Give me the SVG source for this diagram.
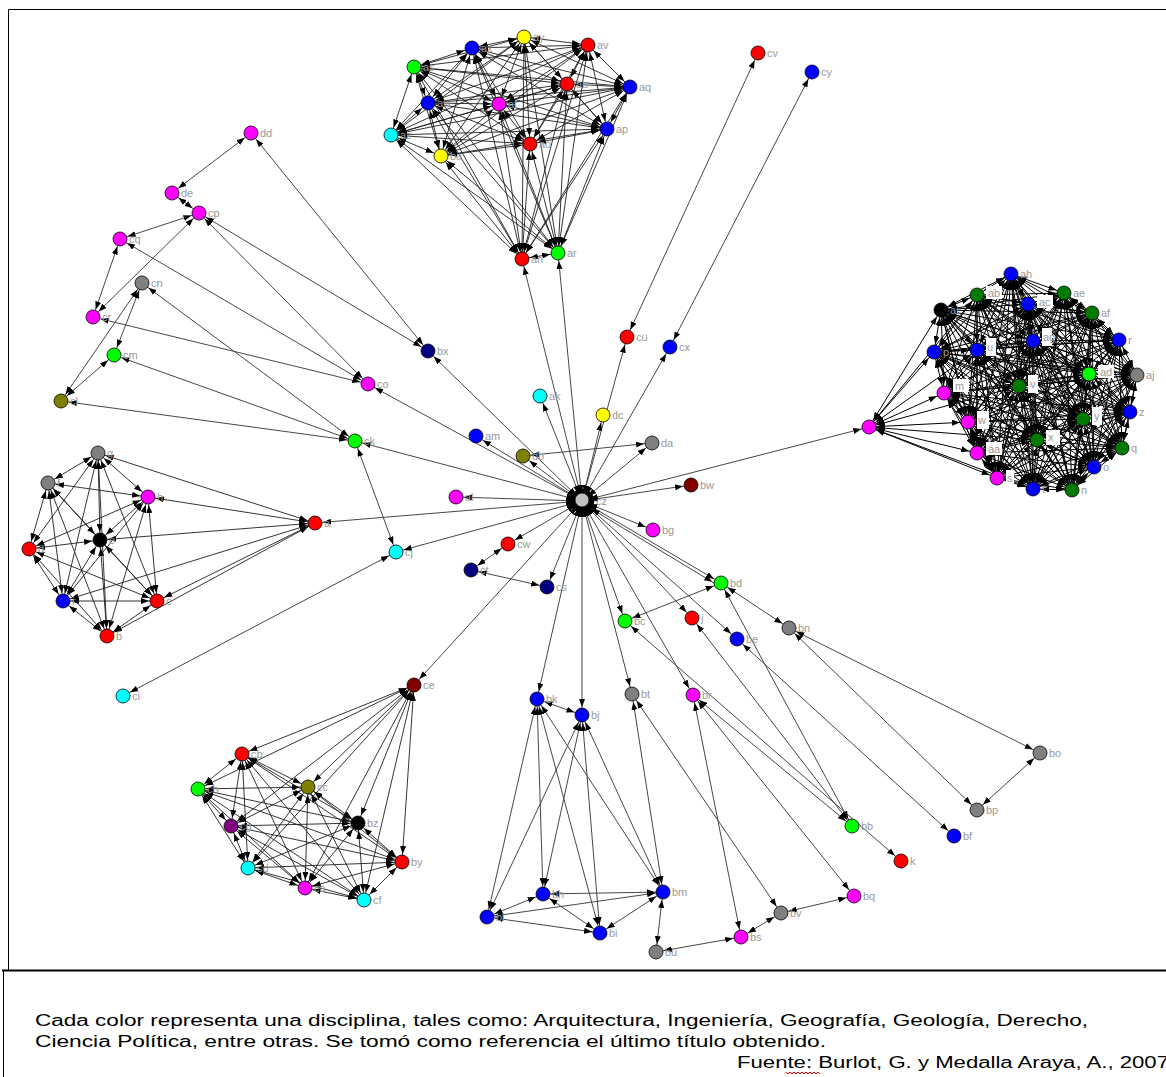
<svg xmlns="http://www.w3.org/2000/svg" width="1166" height="1077" viewBox="0 0 1166 1077">
<defs>
<marker id="arw" viewBox="0 0 8 6" refX="16" refY="3" markerWidth="8" markerHeight="6" markerUnits="userSpaceOnUse" orient="auto-start-reverse"><path d="M0,0L8,3L0,6z" fill="#000"/></marker>
</defs>
<style>
.c line{stroke:#474747;stroke-width:1;marker-start:url(#arw);marker-end:url(#arw)}
.c .k line{stroke:#1e1e1e;stroke-width:.9}
.c .rc line{stroke:#000;stroke-width:1}
.n circle{stroke:#000;stroke-width:.8}
.n text{font-family:"Liberation Sans",Arial,sans-serif;font-size:11px;fill:#9a9a9a}
.n rect{fill:#fff}
.R{fill:#f00}.B{fill:#00f}.G{fill:#0f0}.D{fill:#007a00}.Y{fill:#ff0}.M{fill:#f0f}.C{fill:#0ff}.A{fill:#808080}.O{fill:#808000}.N{fill:#000080}.W{fill:#800000}.P{fill:#800080}.K{fill:#000}.L{fill:#c0c0c0}
.cap{font-family:"Liberation Sans",Arial,sans-serif;font-size:16px;fill:#000}
.frame{stroke:#000;fill:none}
</style>
<rect width="1166" height="1077" fill="#fff"/>
<g id="frame" class="frame">
<path d="M8.5,9.5H1166M8.5,9.5V970" stroke-width="1"/>
<path d="M2,970.5H1166" stroke-width="2"/>
<path d="M3.5,971V1077" stroke-width="1"/>
</g>
<g id="connectors" class="c">
<g id="main-edges">
<line x1="582" y1="501" x2="627" y2="337"/>
<line x1="582" y1="501" x2="670" y2="347"/>
<line x1="582" y1="501" x2="540" y2="396"/>
<line x1="582" y1="501" x2="603" y2="415"/>
<line x1="582" y1="501" x2="652" y2="443"/>
<line x1="582" y1="501" x2="523" y2="456"/>
<line x1="582" y1="501" x2="476" y2="436"/>
<line x1="582" y1="501" x2="428" y2="351"/>
<line x1="582" y1="501" x2="368" y2="384"/>
<line x1="582" y1="501" x2="355" y2="441"/>
<line x1="582" y1="501" x2="315" y2="523"/>
<line x1="582" y1="501" x2="456" y2="497"/>
<line x1="582" y1="501" x2="396" y2="552"/>
<line x1="582" y1="501" x2="414" y2="685"/>
<line x1="582" y1="501" x2="508" y2="544"/>
<line x1="582" y1="501" x2="547" y2="587"/>
<line x1="582" y1="501" x2="537" y2="699"/>
<line x1="582" y1="501" x2="582" y2="715"/>
<line x1="582" y1="501" x2="632" y2="694"/>
<line x1="582" y1="501" x2="693" y2="695"/>
<line x1="582" y1="501" x2="625" y2="621"/>
<line x1="582" y1="501" x2="692" y2="618"/>
<line x1="582" y1="501" x2="737" y2="639"/>
<line x1="582" y1="501" x2="721" y2="583"/>
<line x1="585" y1="505" x2="719" y2="586"/>
<line x1="582" y1="501" x2="653" y2="530"/>
<line x1="582" y1="501" x2="691" y2="485"/>
<line x1="582" y1="501" x2="869" y2="427"/>
<line x1="582" y1="501" x2="522" y2="259"/>
<line x1="582" y1="501" x2="558" y2="253"/>
<line x1="627" y1="337" x2="758" y2="53"/>
<line x1="670" y1="347" x2="812" y2="72"/>
<line x1="523" y1="456" x2="652" y2="443"/>
<line x1="471" y1="570" x2="547" y2="587"/>
<line x1="471" y1="570" x2="508" y2="544"/>
<line x1="251" y1="133" x2="428" y2="351"/>
<line x1="199" y1="213" x2="428" y2="351"/>
<line x1="199" y1="213" x2="368" y2="384"/>
<line x1="120" y1="239" x2="368" y2="384"/>
<line x1="93" y1="317" x2="368" y2="384"/>
<line x1="142" y1="283" x2="355" y2="441"/>
<line x1="114" y1="355" x2="355" y2="441"/>
<line x1="61" y1="401" x2="355" y2="441"/>
<line x1="396" y1="552" x2="355" y2="441"/>
<line x1="123" y1="696" x2="396" y2="552"/>
<line x1="251" y1="133" x2="172" y2="193"/>
<line x1="172" y1="193" x2="199" y2="213"/>
<line x1="120" y1="239" x2="199" y2="213"/>
<line x1="93" y1="317" x2="120" y2="239"/>
<line x1="93" y1="317" x2="199" y2="213"/>
<line x1="61" y1="401" x2="142" y2="283"/>
<line x1="61" y1="401" x2="114" y2="355"/>
<line x1="114" y1="355" x2="142" y2="283"/>
<line x1="625" y1="621" x2="721" y2="583"/>
<line x1="721" y1="583" x2="789" y2="628"/>
<line x1="721" y1="583" x2="852" y2="826"/>
<line x1="789" y1="628" x2="1040" y2="753"/>
<line x1="789" y1="628" x2="977" y2="810"/>
<line x1="977" y1="810" x2="1040" y2="753"/>
<line x1="737" y1="639" x2="954" y2="836"/>
<line x1="692" y1="618" x2="852" y2="826"/>
<line x1="625" y1="621" x2="901" y2="861"/>
<line x1="693" y1="695" x2="852" y2="826"/>
<line x1="693" y1="695" x2="854" y2="896"/>
<line x1="693" y1="695" x2="741" y2="937"/>
<line x1="632" y1="694" x2="781" y2="913"/>
<line x1="632" y1="694" x2="663" y2="892"/>
<line x1="741" y1="937" x2="781" y2="913"/>
<line x1="781" y1="913" x2="854" y2="896"/>
<line x1="656" y1="952" x2="741" y2="937"/>
<line x1="537" y1="699" x2="582" y2="715"/>
<line x1="537" y1="699" x2="487" y2="917"/>
<line x1="537" y1="699" x2="543" y2="894"/>
<line x1="537" y1="699" x2="600" y2="933"/>
<line x1="537" y1="699" x2="663" y2="892"/>
<line x1="582" y1="715" x2="487" y2="917"/>
<line x1="582" y1="715" x2="543" y2="894"/>
<line x1="582" y1="715" x2="600" y2="933"/>
<line x1="582" y1="715" x2="663" y2="892"/>
<line x1="543" y1="894" x2="663" y2="892"/>
<line x1="487" y1="917" x2="543" y2="894"/>
<line x1="487" y1="917" x2="600" y2="933"/>
<line x1="487" y1="917" x2="663" y2="892"/>
<line x1="600" y1="933" x2="543" y2="894"/>
<line x1="600" y1="933" x2="663" y2="892"/>
<line x1="663" y1="892" x2="656" y2="952"/>
</g>
<g id="top-cluster-edges" class="k">
<line x1="472" y1="48" x2="524" y2="37"/>
<line x1="472" y1="48" x2="588" y2="45"/>
<line x1="472" y1="48" x2="414" y2="67"/>
<line x1="472" y1="48" x2="567" y2="84"/>
<line x1="472" y1="48" x2="630" y2="87"/>
<line x1="472" y1="48" x2="428" y2="103"/>
<line x1="472" y1="48" x2="499" y2="104"/>
<line x1="472" y1="48" x2="391" y2="135"/>
<line x1="472" y1="48" x2="607" y2="129"/>
<line x1="472" y1="48" x2="530" y2="144"/>
<line x1="472" y1="48" x2="441" y2="156"/>
<line x1="524" y1="37" x2="588" y2="45"/>
<line x1="524" y1="37" x2="414" y2="67"/>
<line x1="524" y1="37" x2="567" y2="84"/>
<line x1="524" y1="37" x2="630" y2="87"/>
<line x1="524" y1="37" x2="428" y2="103"/>
<line x1="524" y1="37" x2="499" y2="104"/>
<line x1="524" y1="37" x2="391" y2="135"/>
<line x1="524" y1="37" x2="607" y2="129"/>
<line x1="524" y1="37" x2="530" y2="144"/>
<line x1="524" y1="37" x2="441" y2="156"/>
<line x1="588" y1="45" x2="414" y2="67"/>
<line x1="588" y1="45" x2="567" y2="84"/>
<line x1="588" y1="45" x2="630" y2="87"/>
<line x1="588" y1="45" x2="428" y2="103"/>
<line x1="588" y1="45" x2="499" y2="104"/>
<line x1="588" y1="45" x2="391" y2="135"/>
<line x1="588" y1="45" x2="607" y2="129"/>
<line x1="588" y1="45" x2="530" y2="144"/>
<line x1="588" y1="45" x2="441" y2="156"/>
<line x1="414" y1="67" x2="567" y2="84"/>
<line x1="414" y1="67" x2="630" y2="87"/>
<line x1="414" y1="67" x2="428" y2="103"/>
<line x1="414" y1="67" x2="499" y2="104"/>
<line x1="414" y1="67" x2="391" y2="135"/>
<line x1="414" y1="67" x2="607" y2="129"/>
<line x1="414" y1="67" x2="530" y2="144"/>
<line x1="414" y1="67" x2="441" y2="156"/>
<line x1="567" y1="84" x2="630" y2="87"/>
<line x1="567" y1="84" x2="428" y2="103"/>
<line x1="567" y1="84" x2="499" y2="104"/>
<line x1="567" y1="84" x2="391" y2="135"/>
<line x1="567" y1="84" x2="607" y2="129"/>
<line x1="567" y1="84" x2="530" y2="144"/>
<line x1="567" y1="84" x2="441" y2="156"/>
<line x1="630" y1="87" x2="428" y2="103"/>
<line x1="630" y1="87" x2="499" y2="104"/>
<line x1="630" y1="87" x2="391" y2="135"/>
<line x1="630" y1="87" x2="607" y2="129"/>
<line x1="630" y1="87" x2="530" y2="144"/>
<line x1="630" y1="87" x2="441" y2="156"/>
<line x1="428" y1="103" x2="499" y2="104"/>
<line x1="428" y1="103" x2="391" y2="135"/>
<line x1="428" y1="103" x2="607" y2="129"/>
<line x1="428" y1="103" x2="530" y2="144"/>
<line x1="428" y1="103" x2="441" y2="156"/>
<line x1="499" y1="104" x2="391" y2="135"/>
<line x1="499" y1="104" x2="607" y2="129"/>
<line x1="499" y1="104" x2="530" y2="144"/>
<line x1="499" y1="104" x2="441" y2="156"/>
<line x1="391" y1="135" x2="607" y2="129"/>
<line x1="391" y1="135" x2="530" y2="144"/>
<line x1="391" y1="135" x2="441" y2="156"/>
<line x1="607" y1="129" x2="530" y2="144"/>
<line x1="607" y1="129" x2="441" y2="156"/>
<line x1="530" y1="144" x2="441" y2="156"/>
<line x1="472" y1="48" x2="522" y2="259"/>
<line x1="524" y1="37" x2="522" y2="259"/>
<line x1="588" y1="45" x2="522" y2="259"/>
<line x1="414" y1="67" x2="522" y2="259"/>
<line x1="567" y1="84" x2="522" y2="259"/>
<line x1="630" y1="87" x2="522" y2="259"/>
<line x1="428" y1="103" x2="522" y2="259"/>
<line x1="499" y1="104" x2="522" y2="259"/>
<line x1="391" y1="135" x2="522" y2="259"/>
<line x1="607" y1="129" x2="522" y2="259"/>
<line x1="530" y1="144" x2="522" y2="259"/>
<line x1="441" y1="156" x2="522" y2="259"/>
<line x1="472" y1="48" x2="558" y2="253"/>
<line x1="524" y1="37" x2="558" y2="253"/>
<line x1="588" y1="45" x2="558" y2="253"/>
<line x1="414" y1="67" x2="558" y2="253"/>
<line x1="567" y1="84" x2="558" y2="253"/>
<line x1="630" y1="87" x2="558" y2="253"/>
<line x1="428" y1="103" x2="558" y2="253"/>
<line x1="499" y1="104" x2="558" y2="253"/>
<line x1="391" y1="135" x2="558" y2="253"/>
<line x1="607" y1="129" x2="558" y2="253"/>
<line x1="530" y1="144" x2="558" y2="253"/>
<line x1="441" y1="156" x2="558" y2="253"/>
<line x1="522" y1="259" x2="558" y2="253"/>
</g>
<g id="left-cluster-edges" class="k">
<line x1="107" y1="636" x2="157" y2="601"/>
<line x1="107" y1="636" x2="29" y2="549"/>
<line x1="107" y1="636" x2="100" y2="540"/>
<line x1="107" y1="636" x2="48" y2="483"/>
<line x1="107" y1="636" x2="98" y2="453"/>
<line x1="107" y1="636" x2="148" y2="497"/>
<line x1="107" y1="636" x2="63" y2="601"/>
<line x1="157" y1="601" x2="29" y2="549"/>
<line x1="157" y1="601" x2="100" y2="540"/>
<line x1="157" y1="601" x2="48" y2="483"/>
<line x1="157" y1="601" x2="98" y2="453"/>
<line x1="157" y1="601" x2="148" y2="497"/>
<line x1="157" y1="601" x2="63" y2="601"/>
<line x1="29" y1="549" x2="100" y2="540"/>
<line x1="29" y1="549" x2="48" y2="483"/>
<line x1="29" y1="549" x2="98" y2="453"/>
<line x1="29" y1="549" x2="148" y2="497"/>
<line x1="29" y1="549" x2="63" y2="601"/>
<line x1="100" y1="540" x2="48" y2="483"/>
<line x1="100" y1="540" x2="98" y2="453"/>
<line x1="100" y1="540" x2="148" y2="497"/>
<line x1="100" y1="540" x2="63" y2="601"/>
<line x1="48" y1="483" x2="98" y2="453"/>
<line x1="48" y1="483" x2="148" y2="497"/>
<line x1="48" y1="483" x2="63" y2="601"/>
<line x1="98" y1="453" x2="148" y2="497"/>
<line x1="98" y1="453" x2="63" y2="601"/>
<line x1="148" y1="497" x2="63" y2="601"/>
<line x1="315" y1="523" x2="98" y2="453"/>
<line x1="315" y1="523" x2="148" y2="497"/>
<line x1="315" y1="523" x2="100" y2="540"/>
<line x1="315" y1="523" x2="63" y2="601"/>
<line x1="315" y1="523" x2="157" y2="601"/>
<line x1="315" y1="523" x2="107" y2="636"/>
</g>
<g id="bottom-left-cluster-edges" class="k">
<line x1="242" y1="754" x2="198" y2="789"/>
<line x1="242" y1="754" x2="308" y2="787"/>
<line x1="242" y1="754" x2="358" y2="823"/>
<line x1="242" y1="754" x2="231" y2="826"/>
<line x1="242" y1="754" x2="248" y2="868"/>
<line x1="242" y1="754" x2="402" y2="862"/>
<line x1="242" y1="754" x2="305" y2="888"/>
<line x1="242" y1="754" x2="364" y2="900"/>
<line x1="198" y1="789" x2="308" y2="787"/>
<line x1="198" y1="789" x2="358" y2="823"/>
<line x1="198" y1="789" x2="231" y2="826"/>
<line x1="198" y1="789" x2="248" y2="868"/>
<line x1="198" y1="789" x2="402" y2="862"/>
<line x1="198" y1="789" x2="305" y2="888"/>
<line x1="198" y1="789" x2="364" y2="900"/>
<line x1="308" y1="787" x2="358" y2="823"/>
<line x1="308" y1="787" x2="231" y2="826"/>
<line x1="308" y1="787" x2="248" y2="868"/>
<line x1="308" y1="787" x2="402" y2="862"/>
<line x1="308" y1="787" x2="305" y2="888"/>
<line x1="308" y1="787" x2="364" y2="900"/>
<line x1="358" y1="823" x2="231" y2="826"/>
<line x1="358" y1="823" x2="248" y2="868"/>
<line x1="358" y1="823" x2="402" y2="862"/>
<line x1="358" y1="823" x2="305" y2="888"/>
<line x1="358" y1="823" x2="364" y2="900"/>
<line x1="231" y1="826" x2="248" y2="868"/>
<line x1="231" y1="826" x2="402" y2="862"/>
<line x1="231" y1="826" x2="305" y2="888"/>
<line x1="231" y1="826" x2="364" y2="900"/>
<line x1="248" y1="868" x2="402" y2="862"/>
<line x1="248" y1="868" x2="305" y2="888"/>
<line x1="248" y1="868" x2="364" y2="900"/>
<line x1="402" y1="862" x2="305" y2="888"/>
<line x1="402" y1="862" x2="364" y2="900"/>
<line x1="305" y1="888" x2="364" y2="900"/>
<line x1="414" y1="685" x2="242" y2="754"/>
<line x1="414" y1="685" x2="198" y2="789"/>
<line x1="414" y1="685" x2="308" y2="787"/>
<line x1="414" y1="685" x2="358" y2="823"/>
<line x1="414" y1="685" x2="231" y2="826"/>
<line x1="414" y1="685" x2="248" y2="868"/>
<line x1="414" y1="685" x2="402" y2="862"/>
<line x1="414" y1="685" x2="305" y2="888"/>
<line x1="414" y1="685" x2="364" y2="900"/>
</g>
<g id="right-cluster-edges" class="rc">
<line x1="869" y1="427" x2="941" y2="310"/>
<line x1="869" y1="427" x2="934" y2="352"/>
<line x1="869" y1="427" x2="977" y2="350"/>
<line x1="869" y1="427" x2="944" y2="393"/>
<line x1="869" y1="427" x2="968" y2="422"/>
<line x1="869" y1="427" x2="977" y2="453"/>
<line x1="869" y1="427" x2="997" y2="478"/>
<line x1="869" y1="427" x2="1033" y2="489"/>
<line x1="869" y1="427" x2="977" y2="295"/>
<line x1="869" y1="427" x2="1019" y2="386"/>
<line x1="869" y1="427" x2="1037" y2="440"/>
<line x1="1011" y1="274" x2="977" y2="295"/>
<line x1="1011" y1="274" x2="1028" y2="304"/>
<line x1="1011" y1="274" x2="1064" y2="293"/>
<line x1="1011" y1="274" x2="1092" y2="313"/>
<line x1="1011" y1="274" x2="941" y2="310"/>
<line x1="1011" y1="274" x2="1119" y2="340"/>
<line x1="1011" y1="274" x2="1033" y2="341"/>
<line x1="1011" y1="274" x2="977" y2="350"/>
<line x1="1011" y1="274" x2="934" y2="352"/>
<line x1="1011" y1="274" x2="1089" y2="374"/>
<line x1="1011" y1="274" x2="1137" y2="375"/>
<line x1="1011" y1="274" x2="1019" y2="386"/>
<line x1="1011" y1="274" x2="944" y2="393"/>
<line x1="1011" y1="274" x2="1130" y2="412"/>
<line x1="1011" y1="274" x2="1083" y2="419"/>
<line x1="1011" y1="274" x2="968" y2="422"/>
<line x1="1011" y1="274" x2="1037" y2="440"/>
<line x1="1011" y1="274" x2="1122" y2="448"/>
<line x1="1011" y1="274" x2="977" y2="453"/>
<line x1="1011" y1="274" x2="1094" y2="467"/>
<line x1="1011" y1="274" x2="997" y2="478"/>
<line x1="1011" y1="274" x2="1033" y2="489"/>
<line x1="1011" y1="274" x2="1072" y2="490"/>
<line x1="977" y1="295" x2="1028" y2="304"/>
<line x1="977" y1="295" x2="1064" y2="293"/>
<line x1="977" y1="295" x2="1092" y2="313"/>
<line x1="977" y1="295" x2="941" y2="310"/>
<line x1="977" y1="295" x2="1119" y2="340"/>
<line x1="977" y1="295" x2="1033" y2="341"/>
<line x1="977" y1="295" x2="977" y2="350"/>
<line x1="977" y1="295" x2="934" y2="352"/>
<line x1="977" y1="295" x2="1089" y2="374"/>
<line x1="977" y1="295" x2="1137" y2="375"/>
<line x1="977" y1="295" x2="1019" y2="386"/>
<line x1="977" y1="295" x2="944" y2="393"/>
<line x1="977" y1="295" x2="1130" y2="412"/>
<line x1="977" y1="295" x2="1083" y2="419"/>
<line x1="977" y1="295" x2="968" y2="422"/>
<line x1="977" y1="295" x2="1037" y2="440"/>
<line x1="977" y1="295" x2="1122" y2="448"/>
<line x1="977" y1="295" x2="977" y2="453"/>
<line x1="977" y1="295" x2="1094" y2="467"/>
<line x1="977" y1="295" x2="997" y2="478"/>
<line x1="977" y1="295" x2="1033" y2="489"/>
<line x1="977" y1="295" x2="1072" y2="490"/>
<line x1="1028" y1="304" x2="1064" y2="293"/>
<line x1="1028" y1="304" x2="1092" y2="313"/>
<line x1="1028" y1="304" x2="941" y2="310"/>
<line x1="1028" y1="304" x2="1119" y2="340"/>
<line x1="1028" y1="304" x2="1033" y2="341"/>
<line x1="1028" y1="304" x2="977" y2="350"/>
<line x1="1028" y1="304" x2="934" y2="352"/>
<line x1="1028" y1="304" x2="1089" y2="374"/>
<line x1="1028" y1="304" x2="1137" y2="375"/>
<line x1="1028" y1="304" x2="1019" y2="386"/>
<line x1="1028" y1="304" x2="944" y2="393"/>
<line x1="1028" y1="304" x2="1130" y2="412"/>
<line x1="1028" y1="304" x2="1083" y2="419"/>
<line x1="1028" y1="304" x2="968" y2="422"/>
<line x1="1028" y1="304" x2="1037" y2="440"/>
<line x1="1028" y1="304" x2="1122" y2="448"/>
<line x1="1028" y1="304" x2="977" y2="453"/>
<line x1="1028" y1="304" x2="1094" y2="467"/>
<line x1="1028" y1="304" x2="997" y2="478"/>
<line x1="1028" y1="304" x2="1033" y2="489"/>
<line x1="1028" y1="304" x2="1072" y2="490"/>
<line x1="1064" y1="293" x2="1092" y2="313"/>
<line x1="1064" y1="293" x2="941" y2="310"/>
<line x1="1064" y1="293" x2="1119" y2="340"/>
<line x1="1064" y1="293" x2="1033" y2="341"/>
<line x1="1064" y1="293" x2="977" y2="350"/>
<line x1="1064" y1="293" x2="934" y2="352"/>
<line x1="1064" y1="293" x2="1089" y2="374"/>
<line x1="1064" y1="293" x2="1137" y2="375"/>
<line x1="1064" y1="293" x2="1019" y2="386"/>
<line x1="1064" y1="293" x2="944" y2="393"/>
<line x1="1064" y1="293" x2="1130" y2="412"/>
<line x1="1064" y1="293" x2="1083" y2="419"/>
<line x1="1064" y1="293" x2="968" y2="422"/>
<line x1="1064" y1="293" x2="1037" y2="440"/>
<line x1="1064" y1="293" x2="1122" y2="448"/>
<line x1="1064" y1="293" x2="977" y2="453"/>
<line x1="1064" y1="293" x2="1094" y2="467"/>
<line x1="1064" y1="293" x2="997" y2="478"/>
<line x1="1064" y1="293" x2="1033" y2="489"/>
<line x1="1064" y1="293" x2="1072" y2="490"/>
<line x1="1092" y1="313" x2="941" y2="310"/>
<line x1="1092" y1="313" x2="1119" y2="340"/>
<line x1="1092" y1="313" x2="1033" y2="341"/>
<line x1="1092" y1="313" x2="977" y2="350"/>
<line x1="1092" y1="313" x2="934" y2="352"/>
<line x1="1092" y1="313" x2="1089" y2="374"/>
<line x1="1092" y1="313" x2="1137" y2="375"/>
<line x1="1092" y1="313" x2="1019" y2="386"/>
<line x1="1092" y1="313" x2="944" y2="393"/>
<line x1="1092" y1="313" x2="1130" y2="412"/>
<line x1="1092" y1="313" x2="1083" y2="419"/>
<line x1="1092" y1="313" x2="968" y2="422"/>
<line x1="1092" y1="313" x2="1037" y2="440"/>
<line x1="1092" y1="313" x2="1122" y2="448"/>
<line x1="1092" y1="313" x2="977" y2="453"/>
<line x1="1092" y1="313" x2="1094" y2="467"/>
<line x1="1092" y1="313" x2="997" y2="478"/>
<line x1="1092" y1="313" x2="1033" y2="489"/>
<line x1="1092" y1="313" x2="1072" y2="490"/>
<line x1="941" y1="310" x2="1119" y2="340"/>
<line x1="941" y1="310" x2="1033" y2="341"/>
<line x1="941" y1="310" x2="977" y2="350"/>
<line x1="941" y1="310" x2="934" y2="352"/>
<line x1="941" y1="310" x2="1089" y2="374"/>
<line x1="941" y1="310" x2="1137" y2="375"/>
<line x1="941" y1="310" x2="1019" y2="386"/>
<line x1="941" y1="310" x2="944" y2="393"/>
<line x1="941" y1="310" x2="1130" y2="412"/>
<line x1="941" y1="310" x2="1083" y2="419"/>
<line x1="941" y1="310" x2="968" y2="422"/>
<line x1="941" y1="310" x2="1037" y2="440"/>
<line x1="941" y1="310" x2="1122" y2="448"/>
<line x1="941" y1="310" x2="977" y2="453"/>
<line x1="941" y1="310" x2="1094" y2="467"/>
<line x1="941" y1="310" x2="997" y2="478"/>
<line x1="941" y1="310" x2="1033" y2="489"/>
<line x1="941" y1="310" x2="1072" y2="490"/>
<line x1="1119" y1="340" x2="1033" y2="341"/>
<line x1="1119" y1="340" x2="977" y2="350"/>
<line x1="1119" y1="340" x2="934" y2="352"/>
<line x1="1119" y1="340" x2="1089" y2="374"/>
<line x1="1119" y1="340" x2="1137" y2="375"/>
<line x1="1119" y1="340" x2="1019" y2="386"/>
<line x1="1119" y1="340" x2="944" y2="393"/>
<line x1="1119" y1="340" x2="1130" y2="412"/>
<line x1="1119" y1="340" x2="1083" y2="419"/>
<line x1="1119" y1="340" x2="968" y2="422"/>
<line x1="1119" y1="340" x2="1037" y2="440"/>
<line x1="1119" y1="340" x2="1122" y2="448"/>
<line x1="1119" y1="340" x2="977" y2="453"/>
<line x1="1119" y1="340" x2="1094" y2="467"/>
<line x1="1119" y1="340" x2="997" y2="478"/>
<line x1="1119" y1="340" x2="1033" y2="489"/>
<line x1="1119" y1="340" x2="1072" y2="490"/>
<line x1="1033" y1="341" x2="977" y2="350"/>
<line x1="1033" y1="341" x2="934" y2="352"/>
<line x1="1033" y1="341" x2="1089" y2="374"/>
<line x1="1033" y1="341" x2="1137" y2="375"/>
<line x1="1033" y1="341" x2="1019" y2="386"/>
<line x1="1033" y1="341" x2="944" y2="393"/>
<line x1="1033" y1="341" x2="1130" y2="412"/>
<line x1="1033" y1="341" x2="1083" y2="419"/>
<line x1="1033" y1="341" x2="968" y2="422"/>
<line x1="1033" y1="341" x2="1037" y2="440"/>
<line x1="1033" y1="341" x2="1122" y2="448"/>
<line x1="1033" y1="341" x2="977" y2="453"/>
<line x1="1033" y1="341" x2="1094" y2="467"/>
<line x1="1033" y1="341" x2="997" y2="478"/>
<line x1="1033" y1="341" x2="1033" y2="489"/>
<line x1="1033" y1="341" x2="1072" y2="490"/>
<line x1="977" y1="350" x2="934" y2="352"/>
<line x1="977" y1="350" x2="1089" y2="374"/>
<line x1="977" y1="350" x2="1137" y2="375"/>
<line x1="977" y1="350" x2="1019" y2="386"/>
<line x1="977" y1="350" x2="944" y2="393"/>
<line x1="977" y1="350" x2="1130" y2="412"/>
<line x1="977" y1="350" x2="1083" y2="419"/>
<line x1="977" y1="350" x2="968" y2="422"/>
<line x1="977" y1="350" x2="1037" y2="440"/>
<line x1="977" y1="350" x2="1122" y2="448"/>
<line x1="977" y1="350" x2="977" y2="453"/>
<line x1="977" y1="350" x2="1094" y2="467"/>
<line x1="977" y1="350" x2="997" y2="478"/>
<line x1="977" y1="350" x2="1033" y2="489"/>
<line x1="977" y1="350" x2="1072" y2="490"/>
<line x1="934" y1="352" x2="1089" y2="374"/>
<line x1="934" y1="352" x2="1137" y2="375"/>
<line x1="934" y1="352" x2="1019" y2="386"/>
<line x1="934" y1="352" x2="944" y2="393"/>
<line x1="934" y1="352" x2="1130" y2="412"/>
<line x1="934" y1="352" x2="1083" y2="419"/>
<line x1="934" y1="352" x2="968" y2="422"/>
<line x1="934" y1="352" x2="1037" y2="440"/>
<line x1="934" y1="352" x2="1122" y2="448"/>
<line x1="934" y1="352" x2="977" y2="453"/>
<line x1="934" y1="352" x2="1094" y2="467"/>
<line x1="934" y1="352" x2="997" y2="478"/>
<line x1="934" y1="352" x2="1033" y2="489"/>
<line x1="934" y1="352" x2="1072" y2="490"/>
<line x1="1089" y1="374" x2="1137" y2="375"/>
<line x1="1089" y1="374" x2="1019" y2="386"/>
<line x1="1089" y1="374" x2="944" y2="393"/>
<line x1="1089" y1="374" x2="1130" y2="412"/>
<line x1="1089" y1="374" x2="1083" y2="419"/>
<line x1="1089" y1="374" x2="968" y2="422"/>
<line x1="1089" y1="374" x2="1037" y2="440"/>
<line x1="1089" y1="374" x2="1122" y2="448"/>
<line x1="1089" y1="374" x2="977" y2="453"/>
<line x1="1089" y1="374" x2="1094" y2="467"/>
<line x1="1089" y1="374" x2="997" y2="478"/>
<line x1="1089" y1="374" x2="1033" y2="489"/>
<line x1="1089" y1="374" x2="1072" y2="490"/>
<line x1="1137" y1="375" x2="1019" y2="386"/>
<line x1="1137" y1="375" x2="944" y2="393"/>
<line x1="1137" y1="375" x2="1130" y2="412"/>
<line x1="1137" y1="375" x2="1083" y2="419"/>
<line x1="1137" y1="375" x2="968" y2="422"/>
<line x1="1137" y1="375" x2="1037" y2="440"/>
<line x1="1137" y1="375" x2="1122" y2="448"/>
<line x1="1137" y1="375" x2="977" y2="453"/>
<line x1="1137" y1="375" x2="1094" y2="467"/>
<line x1="1137" y1="375" x2="997" y2="478"/>
<line x1="1137" y1="375" x2="1033" y2="489"/>
<line x1="1137" y1="375" x2="1072" y2="490"/>
<line x1="1019" y1="386" x2="944" y2="393"/>
<line x1="1019" y1="386" x2="1130" y2="412"/>
<line x1="1019" y1="386" x2="1083" y2="419"/>
<line x1="1019" y1="386" x2="968" y2="422"/>
<line x1="1019" y1="386" x2="1037" y2="440"/>
<line x1="1019" y1="386" x2="1122" y2="448"/>
<line x1="1019" y1="386" x2="977" y2="453"/>
<line x1="1019" y1="386" x2="1094" y2="467"/>
<line x1="1019" y1="386" x2="997" y2="478"/>
<line x1="1019" y1="386" x2="1033" y2="489"/>
<line x1="1019" y1="386" x2="1072" y2="490"/>
<line x1="944" y1="393" x2="1130" y2="412"/>
<line x1="944" y1="393" x2="1083" y2="419"/>
<line x1="944" y1="393" x2="968" y2="422"/>
<line x1="944" y1="393" x2="1037" y2="440"/>
<line x1="944" y1="393" x2="1122" y2="448"/>
<line x1="944" y1="393" x2="977" y2="453"/>
<line x1="944" y1="393" x2="1094" y2="467"/>
<line x1="944" y1="393" x2="997" y2="478"/>
<line x1="944" y1="393" x2="1033" y2="489"/>
<line x1="944" y1="393" x2="1072" y2="490"/>
<line x1="1130" y1="412" x2="1083" y2="419"/>
<line x1="1130" y1="412" x2="968" y2="422"/>
<line x1="1130" y1="412" x2="1037" y2="440"/>
<line x1="1130" y1="412" x2="1122" y2="448"/>
<line x1="1130" y1="412" x2="977" y2="453"/>
<line x1="1130" y1="412" x2="1094" y2="467"/>
<line x1="1130" y1="412" x2="997" y2="478"/>
<line x1="1130" y1="412" x2="1033" y2="489"/>
<line x1="1130" y1="412" x2="1072" y2="490"/>
<line x1="1083" y1="419" x2="968" y2="422"/>
<line x1="1083" y1="419" x2="1037" y2="440"/>
<line x1="1083" y1="419" x2="1122" y2="448"/>
<line x1="1083" y1="419" x2="977" y2="453"/>
<line x1="1083" y1="419" x2="1094" y2="467"/>
<line x1="1083" y1="419" x2="997" y2="478"/>
<line x1="1083" y1="419" x2="1033" y2="489"/>
<line x1="1083" y1="419" x2="1072" y2="490"/>
<line x1="968" y1="422" x2="1037" y2="440"/>
<line x1="968" y1="422" x2="1122" y2="448"/>
<line x1="968" y1="422" x2="977" y2="453"/>
<line x1="968" y1="422" x2="1094" y2="467"/>
<line x1="968" y1="422" x2="997" y2="478"/>
<line x1="968" y1="422" x2="1033" y2="489"/>
<line x1="968" y1="422" x2="1072" y2="490"/>
<line x1="1037" y1="440" x2="1122" y2="448"/>
<line x1="1037" y1="440" x2="977" y2="453"/>
<line x1="1037" y1="440" x2="1094" y2="467"/>
<line x1="1037" y1="440" x2="997" y2="478"/>
<line x1="1037" y1="440" x2="1033" y2="489"/>
<line x1="1037" y1="440" x2="1072" y2="490"/>
<line x1="1122" y1="448" x2="977" y2="453"/>
<line x1="1122" y1="448" x2="1094" y2="467"/>
<line x1="1122" y1="448" x2="997" y2="478"/>
<line x1="1122" y1="448" x2="1033" y2="489"/>
<line x1="1122" y1="448" x2="1072" y2="490"/>
<line x1="977" y1="453" x2="1094" y2="467"/>
<line x1="977" y1="453" x2="997" y2="478"/>
<line x1="977" y1="453" x2="1033" y2="489"/>
<line x1="977" y1="453" x2="1072" y2="490"/>
<line x1="1094" y1="467" x2="997" y2="478"/>
<line x1="1094" y1="467" x2="1033" y2="489"/>
<line x1="1094" y1="467" x2="1072" y2="490"/>
<line x1="997" y1="478" x2="1033" y2="489"/>
<line x1="997" y1="478" x2="1072" y2="490"/>
<line x1="1033" y1="489" x2="1072" y2="490"/>
</g>
</g>
<g id="nodes">
<g id="n-cz" class="n"><circle cx="582" cy="501" r="12" class="K"/><circle cx="582" cy="500" r="7" class="L" stroke="none"/><text x="596" y="505">cz</text></g>
<g id="n-ax" class="n"><circle cx="472" cy="48" r="7" class="B"/><text x="481" y="52">ax</text></g>
<g id="n-ay" class="n"><circle cx="524" cy="37" r="7" class="Y"/><text x="533" y="41">ay</text></g>
<g id="n-av" class="n"><circle cx="588" cy="45" r="7" class="R"/><text x="597" y="49">av</text></g>
<g id="n-as" class="n"><circle cx="414" cy="67" r="7" class="G"/><text x="423" y="71">as</text></g>
<g id="n-au" class="n"><circle cx="567" cy="84" r="7" class="R"/><text x="576" y="88">au</text></g>
<g id="n-aq" class="n"><circle cx="630" cy="87" r="7" class="B"/><text x="639" y="91">aq</text></g>
<g id="n-aw" class="n"><circle cx="428" cy="103" r="7" class="B"/><text x="437" y="107">aw</text></g>
<g id="n-at" class="n"><circle cx="499" cy="104" r="7" class="M"/><text x="508" y="108">at</text></g>
<g id="n-az" class="n"><circle cx="391" cy="135" r="7" class="C"/><text x="400" y="139">az</text></g>
<g id="n-ap" class="n"><circle cx="607" cy="129" r="7" class="B"/><text x="616" y="133">ap</text></g>
<g id="n-ao" class="n"><circle cx="530" cy="144" r="7" class="R"/><text x="539" y="148">ao</text></g>
<g id="n-ba" class="n"><circle cx="441" cy="156" r="7" class="Y"/><text x="450" y="160">ba</text></g>
<g id="n-an" class="n"><circle cx="522" cy="259" r="7" class="R"/><text x="531" y="263">an</text></g>
<g id="n-ar" class="n"><circle cx="558" cy="253" r="7" class="G"/><text x="567" y="257">ar</text></g>
<g id="n-cv" class="n"><circle cx="758" cy="53" r="7" class="R"/><text x="767" y="57">cv</text></g>
<g id="n-cy" class="n"><circle cx="812" cy="72" r="7" class="B"/><text x="821" y="76">cy</text></g>
<g id="n-cu" class="n"><circle cx="627" cy="337" r="7" class="R"/><text x="636" y="341">cu</text></g>
<g id="n-cx" class="n"><circle cx="670" cy="347" r="7" class="B"/><text x="679" y="351">cx</text></g>
<g id="n-dd" class="n"><circle cx="251" cy="133" r="7" class="M"/><text x="260" y="137">dd</text></g>
<g id="n-de" class="n"><circle cx="172" cy="193" r="7" class="M"/><text x="181" y="197">de</text></g>
<g id="n-cp" class="n"><circle cx="199" cy="213" r="7" class="M"/><text x="208" y="217">cp</text></g>
<g id="n-cq" class="n"><circle cx="120" cy="239" r="7" class="M"/><text x="129" y="243">cq</text></g>
<g id="n-cn" class="n"><circle cx="142" cy="283" r="7" class="A"/><text x="151" y="287">cn</text></g>
<g id="n-cr" class="n"><circle cx="93" cy="317" r="7" class="M"/><text x="102" y="321">cr</text></g>
<g id="n-cm" class="n"><circle cx="114" cy="355" r="7" class="G"/><text x="123" y="359">cm</text></g>
<g id="n-cl" class="n"><circle cx="61" cy="401" r="7" class="O"/><text x="70" y="405">cl</text></g>
<g id="n-co" class="n"><circle cx="368" cy="384" r="7" class="M"/><text x="377" y="388">co</text></g>
<g id="n-bx" class="n"><circle cx="428" cy="351" r="7" class="N"/><text x="437" y="355">bx</text></g>
<g id="n-ck" class="n"><circle cx="355" cy="441" r="7" class="G"/><text x="364" y="445">ck</text></g>
<g id="n-cj" class="n"><circle cx="396" cy="552" r="7" class="C"/><text x="405" y="556">cj</text></g>
<g id="n-ci" class="n"><circle cx="123" cy="696" r="7" class="C"/><text x="132" y="700">ci</text></g>
<g id="n-ak" class="n"><circle cx="540" cy="396" r="7" class="C"/><text x="549" y="400">ak</text></g>
<g id="n-dc" class="n"><circle cx="603" cy="415" r="7" class="Y"/><text x="612" y="419">dc</text></g>
<g id="n-am" class="n"><circle cx="476" cy="436" r="7" class="B"/><text x="485" y="440">am</text></g>
<g id="n-db" class="n"><circle cx="523" cy="456" r="7" class="O"/><text x="532" y="460">db</text></g>
<g id="n-da" class="n"><circle cx="652" cy="443" r="7" class="A"/><text x="661" y="447">da</text></g>
<g id="n-al" class="n"><circle cx="456" cy="497" r="7" class="M"/><text x="465" y="501">al</text></g>
<g id="n-bw" class="n"><circle cx="691" cy="485" r="7" class="W"/><text x="700" y="489">bw</text></g>
<g id="n-bg" class="n"><circle cx="653" cy="530" r="7" class="M"/><text x="662" y="534">bg</text></g>
<g id="n-cw" class="n"><circle cx="508" cy="544" r="7" class="R"/><text x="517" y="548">cw</text></g>
<g id="n-ct" class="n"><circle cx="471" cy="570" r="7" class="N"/><text x="480" y="574">ct</text></g>
<g id="n-cs" class="n"><circle cx="547" cy="587" r="7" class="N"/><text x="556" y="591">cs</text></g>
<g id="n-a" class="n"><circle cx="315" cy="523" r="7" class="R"/><text x="324" y="527">a</text></g>
<g id="n-b" class="n"><circle cx="107" cy="636" r="7" class="R"/><text x="116" y="640">b</text></g>
<g id="n-c" class="n"><circle cx="157" cy="601" r="7" class="R"/><text x="166" y="605">c</text></g>
<g id="n-d" class="n"><circle cx="29" cy="549" r="7" class="R"/><text x="38" y="553">d</text></g>
<g id="n-e" class="n"><circle cx="100" cy="540" r="7" class="K"/><text x="109" y="544">e</text></g>
<g id="n-f" class="n"><circle cx="48" cy="483" r="7" class="A"/><text x="57" y="487">f</text></g>
<g id="n-g" class="n"><circle cx="98" cy="453" r="7" class="A"/><text x="107" y="457">g</text></g>
<g id="n-h" class="n"><circle cx="148" cy="497" r="7" class="M"/><text x="157" y="501">h</text></g>
<g id="n-i" class="n"><circle cx="63" cy="601" r="7" class="B"/><text x="72" y="605">i</text></g>
<g id="n-ce" class="n"><circle cx="414" cy="685" r="7" class="W"/><text x="423" y="689">ce</text></g>
<g id="n-cb" class="n"><circle cx="242" cy="754" r="7" class="R"/><text x="251" y="758">cb</text></g>
<g id="n-ch" class="n"><circle cx="198" cy="789" r="7" class="G"/><text x="207" y="793">ch</text></g>
<g id="n-cc" class="n"><circle cx="308" cy="787" r="7" class="O"/><text x="317" y="791">cc</text></g>
<g id="n-bz" class="n"><circle cx="358" cy="823" r="7" class="K"/><text x="367" y="827">bz</text></g>
<g id="n-cg" class="n"><circle cx="231" cy="826" r="7" class="P"/><text x="240" y="830">cg</text></g>
<g id="n-cd" class="n"><circle cx="248" cy="868" r="7" class="C"/><text x="257" y="872">cd</text></g>
<g id="n-by" class="n"><circle cx="402" cy="862" r="7" class="R"/><text x="411" y="866">by</text></g>
<g id="n-ca" class="n"><circle cx="305" cy="888" r="7" class="M"/><text x="314" y="892">ca</text></g>
<g id="n-cf" class="n"><circle cx="364" cy="900" r="7" class="C"/><text x="373" y="904">cf</text></g>
<g id="n-bk" class="n"><circle cx="537" cy="699" r="7" class="B"/><text x="546" y="703">bk</text></g>
<g id="n-bj" class="n"><circle cx="582" cy="715" r="7" class="B"/><text x="591" y="719">bj</text></g>
<g id="n-bt" class="n"><circle cx="632" cy="694" r="7" class="A"/><text x="641" y="698">bt</text></g>
<g id="n-br" class="n"><circle cx="693" cy="695" r="7" class="M"/><text x="702" y="699">br</text></g>
<g id="n-bh" class="n"><circle cx="543" cy="894" r="7" class="B"/><text x="552" y="898">bh</text></g>
<g id="n-bm" class="n"><circle cx="663" cy="892" r="7" class="B"/><text x="672" y="896">bm</text></g>
<g id="n-bl" class="n"><circle cx="487" cy="917" r="7" class="B"/><text x="496" y="921">bl</text></g>
<g id="n-bi" class="n"><circle cx="600" cy="933" r="7" class="B"/><text x="609" y="937">bi</text></g>
<g id="n-bu" class="n"><circle cx="656" cy="952" r="7" class="A"/><text x="665" y="956">bu</text></g>
<g id="n-bd" class="n"><circle cx="721" cy="583" r="7" class="G"/><text x="730" y="587">bd</text></g>
<g id="n-bc" class="n"><circle cx="625" cy="621" r="7" class="G"/><text x="634" y="625">bc</text></g>
<g id="n-j" class="n"><circle cx="692" cy="618" r="7" class="R"/><text x="701" y="622">j</text></g>
<g id="n-be" class="n"><circle cx="737" cy="639" r="7" class="B"/><text x="746" y="643">be</text></g>
<g id="n-bn" class="n"><circle cx="789" cy="628" r="7" class="A"/><text x="798" y="632">bn</text></g>
<g id="n-bo" class="n"><circle cx="1040" cy="753" r="7" class="A"/><text x="1049" y="757">bo</text></g>
<g id="n-bp" class="n"><circle cx="977" cy="810" r="7" class="A"/><text x="986" y="814">bp</text></g>
<g id="n-bb" class="n"><circle cx="852" cy="826" r="7" class="G"/><text x="861" y="830">bb</text></g>
<g id="n-bf" class="n"><circle cx="954" cy="836" r="7" class="B"/><text x="963" y="840">bf</text></g>
<g id="n-k" class="n"><circle cx="901" cy="861" r="7" class="R"/><text x="910" y="865">k</text></g>
<g id="n-bq" class="n"><circle cx="854" cy="896" r="7" class="M"/><text x="863" y="900">bq</text></g>
<g id="n-bv" class="n"><circle cx="781" cy="913" r="7" class="A"/><text x="790" y="917">bv</text></g>
<g id="n-bs" class="n"><circle cx="741" cy="937" r="7" class="M"/><text x="750" y="941">bs</text></g>
<g id="n-l" class="n"><circle cx="869" cy="427" r="7" class="M"/></g>
<g id="n-ah" class="n"><circle cx="1011" cy="274" r="7" class="B"/><text x="1020" y="278">ah</text></g>
<g id="n-ab" class="n"><circle cx="977" cy="295" r="7" class="D"/><rect x="986" y="286" width="16" height="13"/><text x="988" y="297">ab</text></g>
<g id="n-ac" class="n"><circle cx="1028" cy="304" r="7" class="B"/><rect x="1037" y="295" width="16" height="13"/><text x="1039" y="306">ac</text></g>
<g id="n-ae" class="n"><circle cx="1064" cy="293" r="7" class="D"/><text x="1073" y="297">ae</text></g>
<g id="n-af" class="n"><circle cx="1092" cy="313" r="7" class="D"/><text x="1101" y="317">af</text></g>
<g id="n-ai" class="n"><circle cx="941" cy="310" r="7" class="K"/><text x="950" y="314">ai</text></g>
<g id="n-r" class="n"><circle cx="1119" cy="340" r="7" class="B"/><text x="1128" y="344">r</text></g>
<g id="n-ag" class="n"><circle cx="1033" cy="341" r="7" class="B"/><rect x="1042" y="328" width="10" height="18"/><text x="1043" y="341">ag</text></g>
<g id="n-u" class="n"><circle cx="977" cy="350" r="7" class="B"/><rect x="986" y="338" width="10" height="18"/><text x="987" y="351">u</text></g>
<g id="n-p" class="n"><circle cx="934" cy="352" r="7" class="B"/><text x="943" y="356">p</text></g>
<g id="n-ad" class="n"><circle cx="1089" cy="374" r="7" class="G"/><rect x="1098" y="365" width="16" height="13"/><text x="1100" y="376">ad</text></g>
<g id="n-aj" class="n"><circle cx="1137" cy="375" r="7" class="A"/><text x="1146" y="379">aj</text></g>
<g id="n-v" class="n"><circle cx="1019" cy="386" r="7" class="D"/><rect x="1028" y="375" width="10" height="18"/><text x="1030" y="388">v</text></g>
<g id="n-m" class="n"><circle cx="944" cy="393" r="7" class="M"/><rect x="953" y="379" width="16" height="13"/><text x="955" y="390">m</text></g>
<g id="n-z" class="n"><circle cx="1130" cy="412" r="7" class="B"/><text x="1139" y="416">z</text></g>
<g id="n-y" class="n"><circle cx="1083" cy="419" r="7" class="D"/><rect x="1092" y="407" width="10" height="18"/><text x="1094" y="420">y</text></g>
<g id="n-w" class="n"><circle cx="968" cy="422" r="7" class="M"/><rect x="977" y="411" width="12" height="18"/><text x="978" y="424">w</text></g>
<g id="n-x" class="n"><circle cx="1037" cy="440" r="7" class="D"/><rect x="1046" y="430" width="14" height="15"/><text x="1048" y="441">x</text></g>
<g id="n-q" class="n"><circle cx="1122" cy="448" r="7" class="D"/><text x="1131" y="452">q</text></g>
<g id="n-aa" class="n"><circle cx="977" cy="453" r="7" class="M"/><rect x="986" y="442" width="16" height="13"/><text x="988" y="453">aa</text></g>
<g id="n-o" class="n"><circle cx="1094" cy="467" r="7" class="B"/><text x="1103" y="471">o</text></g>
<g id="n-s" class="n"><circle cx="997" cy="478" r="7" class="M"/><rect x="1006" y="470" width="8" height="16"/><text x="1007" y="482">s</text></g>
<g id="n-t" class="n"><circle cx="1033" cy="489" r="7" class="B"/><text x="1042" y="493">t</text></g>
<g id="n-n" class="n"><circle cx="1072" cy="490" r="7" class="D"/><text x="1081" y="494">n</text></g>
</g>
<g id="caption">
<text class="cap" x="35" y="1026" textLength="1053" lengthAdjust="spacingAndGlyphs">Cada color representa una disciplina, tales como: Arquitectura, Ingeniería, Geografía, Geología, Derecho,</text>
<text class="cap" x="35" y="1047" textLength="791" lengthAdjust="spacingAndGlyphs">Ciencia Política, entre otras. Se tomó como referencia el último título obtenido.</text>
<text class="cap" x="737" y="1068" textLength="432" lengthAdjust="spacingAndGlyphs">Fuente: Burlot, G. y Medalla Araya, A., 2007</text>
<path d="M786,1072l2,2l2,-2l2,2l2,-2l2,2l2,-2l2,2l2,-2l2,2l2,-2l2,2l2,-2l2,2l2,-2l2,2l2,-2l2,2" fill="none" stroke="#e00" stroke-width="1"/>
</g>
</svg>
